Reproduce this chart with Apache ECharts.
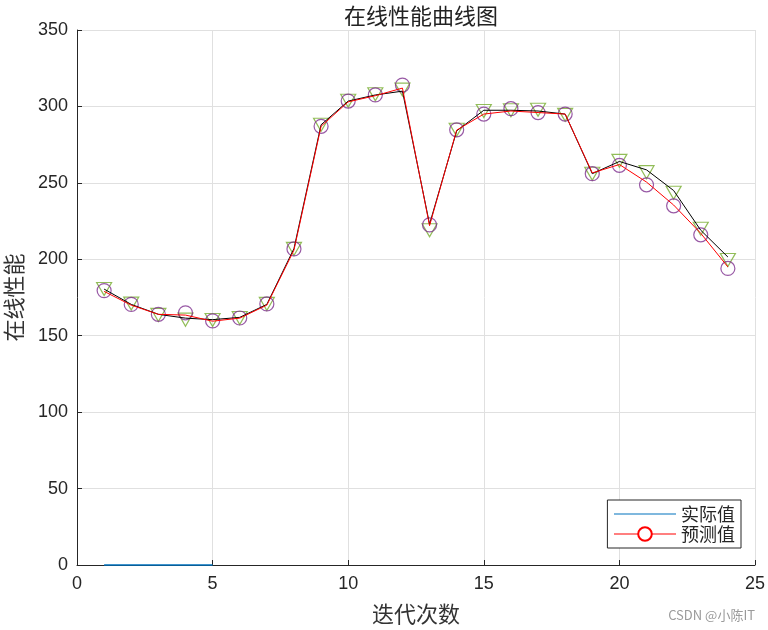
<!DOCTYPE html>
<html>
<head>
<meta charset="utf-8">
<script src="https://cdn.jsdelivr.net/npm/echarts@6/dist/echarts.min.js"></script>
<style>
html,body{margin:0;padding:0;background:#fff;}
#c{width:768px;height:630px;}
</style>
</head>
<body>
<div id="c"></div>
<script>
var xValues = [1,2,3,4,5,6,7,8,9,10,11,12,13,14,15,16,17,18,19,20,21,22,23,24];
var actualLine = [180.5,170.5,164,161.5,160.5,162,170.5,207,288,303.5,307.5,310,223,284,297.5,297.5,297,295,256,264,258.5,245,219,201.5];
var predLine = [179,170,164,163.5,159.5,161.5,170,206,287,303,307,312,222,284.5,295,297,296,295,256.5,262,250.5,235.5,217,195];
var actualMarks = [180.6,171,163.6,160.5,160.3,161.6,170.8,206.8,288,303.7,308,311,219,284.7,297,297.5,297.8,294.5,256,264.4,257,243.5,220,199.5];
var predMarks = [179.5,170.5,164,165,159.7,161.6,170.8,206.8,287,303.5,307.5,314,222.5,284.7,295,298.5,296,295,256,261.5,248.7,235,216,194];
var blueX = [1,2,3,4,5];
var blueY = [0,0,0,0,0];
var xTicks = [0,5,10,15,20,25];
var yTicks = [0,50,100,150,200,250,300,350];

function pairs(xs, ys){ return xs.map(function(x,i){ return [x, ys[i]]; }); }

var chart = echarts.init(document.getElementById('c'));
var cjk = '"Noto Sans CJK SC", sans-serif';
var num = '"Liberation Sans", Arial, sans-serif';
chart.setOption({
  animation:false,
  backgroundColor:'#fff',
  title:{text:'在线性能曲线图', left:416, top:0, textAlign:'center',
    textStyle:{fontFamily:cjk, fontSize:22, fontWeight:'normal', color:'#222'}},
  grid:{left:77, right:13, top:30, bottom:65, containLabel:false, outerBoundsMode:'none'},
  xAxis:{type:'value', min:xTicks[0], max:xTicks[xTicks.length-1], interval:5,
    name:'迭代次数', nameLocation:'middle', nameGap:38,
    nameTextStyle:{fontFamily:cjk, fontSize:22, color:'#333'},
    axisLine:{show:true, onZero:false, lineStyle:{color:'#262626', width:1}},
    axisTick:{show:true, inside:true, length:5, lineStyle:{color:'#262626'}},
    axisLabel:{fontFamily:num, fontSize:18, color:'#262626', margin:10},
    splitLine:{show:true, lineStyle:{color:'#e0e0e0', width:1}}},
  yAxis:{type:'value', min:yTicks[0], max:yTicks[yTicks.length-1], interval:50,
    name:'在线性能', nameLocation:'middle', nameGap:52,
    nameTextStyle:{fontFamily:cjk, fontSize:22, color:'#333'},
    axisLine:{show:true, onZero:false, lineStyle:{color:'#262626', width:1}},
    axisTick:{show:true, inside:true, length:5, lineStyle:{color:'#262626'}},
    axisLabel:{fontFamily:num, fontSize:18, color:'#262626', margin:9},
    splitLine:{show:true, lineStyle:{color:'#e0e0e0', width:1}}},
  legend:{orient:'vertical', right:27, bottom:82,
    data:[
      {name:'实际值', itemStyle:{opacity:0}},
      {name:'预测值', itemStyle:{color:'#ff0000', borderColor:'#ff0000', borderWidth:1}}
    ],
    lineStyle:{width:1.2},
    itemWidth:62, itemHeight:17, itemGap:2, padding:[5,6,5,6],
    borderColor:'#262626', borderWidth:1, backgroundColor:'#fff',
    textStyle:{fontFamily:cjk, fontSize:18, color:'#262626'}},
  graphic:[{type:'text', right:13, bottom:8,
    style:{text:'CSDN @小陈IT', fill:'#9a9a9a', font:'13px '+cjk}}],
  series:[
    {name:'actualMarks', type:'scatter', data:pairs(xValues, actualMarks),
      symbol:'triangle', symbolRotate:180, symbolSize:[15,13], z:3,
      itemStyle:{color:'rgba(0,0,0,0)', borderColor:'#77AC30', borderWidth:1.2}},
    {name:'predMarks', type:'scatter', data:pairs(xValues, predMarks),
      symbol:'circle', symbolSize:14, z:3,
      itemStyle:{color:'rgba(0,0,0,0)', borderColor:'#7E2F8E', borderWidth:1.2}},
    {name:'actualLine', type:'line', data:pairs(xValues, actualLine), showSymbol:false, symbol:'none',
      z:4, lineStyle:{color:'#000', width:1}, itemStyle:{color:'#000'}},
    {name:'预测值', type:'line', data:pairs(xValues, predLine), showSymbol:false, symbol:'emptyCircle', symbolSize:12,
      z:4, lineStyle:{color:'#ff0000', width:1}, itemStyle:{color:'#ff0000', borderColor:'#ff0000'}},
    {name:'实际值', type:'line', data:pairs(blueX, blueY), showSymbol:false, symbol:'none', clip:false,
      z:5, lineStyle:{color:'#0072BD', width:1.5}, itemStyle:{color:'#0072BD'}}
  ]
});
</script>
</body>
</html>
